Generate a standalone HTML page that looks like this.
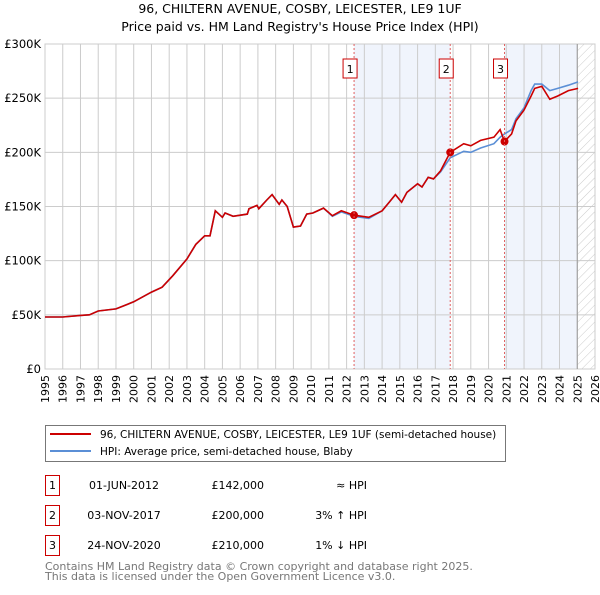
<!DOCTYPE html>
<html><head><meta charset="utf-8"><style>
body{margin:0;background:#fff;font-family:"Liberation Sans","DejaVu Sans",sans-serif;}
svg text{font-family:"DejaVu Sans","Liberation Sans",sans-serif;}
</style></head><body>
<svg id="chart" width="600" height="590" xmlns="http://www.w3.org/2000/svg">
<defs><pattern id="hatch" width="6" height="6" patternUnits="userSpaceOnUse" patternTransform="rotate(45)"><line x1="0" y1="0" x2="0" y2="6" stroke="#ccc" stroke-width="1"/></pattern></defs>
<text x="300" y="13" text-anchor="middle" font-size="12.5">96, CHILTERN AVENUE, COSBY, LEICESTER, LE9 1UF</text>
<text x="300" y="31" text-anchor="middle" font-size="12.5">Price paid vs. HM Land Registry's House Price Index (HPI)</text>
<g id="shade"></g><g id="grid"></g><g id="axes"></g><g id="lines"></g><g id="marks"></g>
<g>
<rect x="45.5" y="425.5" width="460" height="36" fill="#fff" stroke="#777"/>
<line x1="50" y1="434" x2="91" y2="434" stroke="#cc0000" stroke-width="2"/>
<text x="100" y="438" font-size="10.5">96, CHILTERN AVENUE, COSBY, LEICESTER, LE9 1UF (semi-detached house)</text>
<line x1="50" y1="451" x2="91" y2="451" stroke="#5b8fd6" stroke-width="2"/>
<text x="100" y="455" font-size="10.5">HPI: Average price, semi-detached house, Blaby</text>
</g>
<g id="table" font-size="11"></g>
<text x="45" y="570" font-size="11" fill="#777">Contains HM Land Registry data © Crown copyright and database right 2025.</text>
<text x="45" y="580" font-size="11" fill="#777">This data is licensed under the Open Government Licence v3.0.</text>
</svg>
<script>
const years=[1995,1996,1997,1997.5,1998,1999,2000,2001,2001.6,2002.2,2003,2003.5,2004,2004.3,2004.6,2005,2005.15,2005.6,2006.4,2006.5,2006.95,2007.05,2007.5,2007.8,2008.2,2008.35,2008.65,2009,2009.4,2009.75,2010.1,2010.7,2011.2,2011.7,2012.42,2013.25,2014,2014.4,2014.75,2015.1,2015.4,2016,2016.25,2016.6,2016.9,2017.3,2017.84,2018.6,2019,2019.55,2020.3,2020.65,2020.9,2021.3,2021.55,2022,2022.4,2022.6,2023,2023.45,2023.9,2024.5,2025.05];
const priceK=[48,48,49.5,50,53.5,55.5,62,71,75.5,86,101.5,115,123,123,146,140,144,141,143,148,151,148,156,161,152,156,150,131,132,143,144,148.5,141.5,146,142,140,146,154,161,154,163,171,168,177,175.5,183,200,208,206,211,214,221,210,217,229,239,252,259,261,249,252,257,259];
const hpiK=[48,48,49.5,50,53.5,55.5,62,71,75.5,86,101.5,115,123,123,146,140,144,141,143,148,151,148,156,161,152,156,150,131,132,143,144,148.5,141,145,141,139,146,154,161,154,163,171,168,177,175.5,182,195,201,200,204,208,214,217,221,231,241,257,263,263,257,259,262,265];
const sales=[2012.42,2017.84,2020.9];
const salePriceK=[142,200,210];
const saleLabels=["1","2","3"];
const saleDates=["01-JUN-2012","03-NOV-2017","24-NOV-2020"];
const salePrices=["£142,000","£200,000","£210,000"];
const saleHpi=["≈ HPI","3% ↑ HPI","1% ↓ HPI"];
const yTicks=[0,50,100,150,200,250,300];
const yTickLabels=["£0","£50K","£100K","£150K","£200K","£250K","£300K"];
const xTicks=[1995,1996,1997,1998,1999,2000,2001,2002,2003,2004,2005,2006,2007,2008,2009,2010,2011,2012,2013,2014,2015,2016,2017,2018,2019,2020,2021,2022,2023,2024,2025,2026];

const NS="http://www.w3.org/2000/svg";
const L=45,R=595,T=44,B=369;
const X=y=>L+(y-1995)/(2026-1995)*(R-L);
const Y=v=>B-v/300*(B-T);
function mk(tag,attrs,parent,txt){const e=document.createElementNS(NS,tag);for(const k in attrs)e.setAttribute(k,attrs[k]);if(txt!==undefined)e.textContent=txt;parent.appendChild(e);return e;}
const shade=document.getElementById('shade'),grid=document.getElementById('grid'),axes=document.getElementById('axes'),lines=document.getElementById('lines'),marks=document.getElementById('marks'),table=document.getElementById('table');
let s1=mk('rect',{x:X(sales[0]),y:T,width:X(sales[1])-X(sales[0]),height:B-T,fill:'#f0f4fc'},shade);


let s2=mk('rect',{x:X(sales[2]),y:T,width:X(2025)-X(sales[2]),height:B-T,fill:'#f0f4fc'},shade);


let h=mk('rect',{x:X(2025),y:T,width:R-X(2025),height:B-T,fill:'url(#hatch)'},shade);


xTicks.forEach(t=>{mk('line',{x1:X(t),y1:T,x2:X(t),y2:B,stroke:'#ccc','stroke-width':1},grid);
 const tx=mk('text',{x:0,y:0,'font-size':11,'text-anchor':'end',transform:`translate(${X(t)+4},${B+6}) rotate(-90)`},axes,String(t));
 
 });
yTicks.forEach((t,i)=>{mk('line',{x1:L,y1:Y(t),x2:R,y2:Y(t),stroke:'#ccc','stroke-width':1},grid);
 const tx=mk('text',{x:41,y:Y(t)+4,'font-size':11.5,'text-anchor':'end'},axes,yTickLabels[i]);
 
 });
mk('rect',{x:L,y:T,width:R-L,height:B-T,fill:'none',stroke:'#ccc'},grid);
mk('line',{x1:X(2025),y1:T,x2:X(2025),y2:B,stroke:'#999','stroke-width':1},grid);
sales.forEach((s,i)=>{const l=mk('line',{x1:X(s),y1:T,x2:X(s),y2:B,stroke:'#e06060','stroke-dasharray':'2,2'},marks);
 
 
 const g=mk('g',{},marks);
 
 
 mk('rect',{x:X(s)-11,y:59,width:14,height:19,fill:'#fff',stroke:'#cc0000'},g);
 mk('text',{x:X(s)-4,y:73,'font-size':11,'text-anchor':'middle'},g,saleLabels[i]);});
const path=a=>a.map((v,i)=>(i?'L':'M')+X(years[i]).toFixed(1)+','+Y(v).toFixed(1)).join('');
const hl=mk('path',{d:path(hpiK),fill:'none',stroke:'#5b8fd6','stroke-width':1.6},lines);


const pl=mk('path',{d:path(priceK),fill:'none',stroke:'#cc0000','stroke-width':1.6},lines);


sales.forEach((s,i)=>{const c=mk('circle',{cx:X(s),cy:Y(salePriceK[i]),r:4,fill:'#cc0000'},lines);
 
 });
saleLabels.forEach((lab,i)=>{const y=476+i*30;const g=mk('g',{},table);
 
 
 mk('rect',{x:45.5,y:y-0.5,width:14,height:20,fill:'#fff',stroke:'#cc0000'},g);
 mk('text',{x:52.5,y:y+13,'text-anchor':'middle'},g,lab);
 mk('text',{x:124,y:y+13,'text-anchor':'middle'},g,saleDates[i]);
 mk('text',{x:264,y:y+13,'text-anchor':'end'},g,salePrices[i]);
 mk('text',{x:367,y:y+13,'text-anchor':'end'},g,saleHpi[i]);});
</script>
</body></html>
